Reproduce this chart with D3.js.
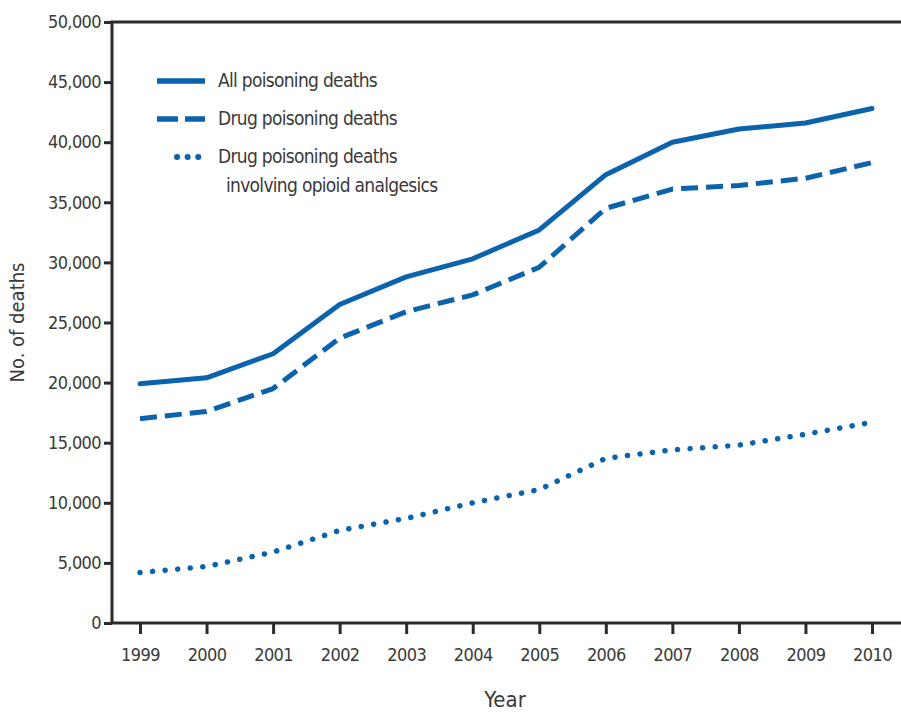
<!DOCTYPE html>
<html>
<head>
<meta charset="utf-8">
<script src="https://cdn.jsdelivr.net/npm/d3@7"></script>
<style>
  html, body { margin: 0; padding: 0; background: #fff; }
  svg { display: block; }
  text { font-family: "DejaVu Sans Condensed", "Liberation Sans Narrow", "Liberation Sans", sans-serif; fill: #3a3a3a; }
</style>
</head>
<body>
<div id="chart"></div>
<script>
// data
const years = [1999, 2000, 2001, 2002, 2003, 2004, 2005, 2006, 2007, 2008, 2009, 2010];
const allPoisoning = [19900, 20400, 22400, 26500, 28800, 30300, 32700, 37300, 40000, 41100, 41600, 42800];
const drugPoisoning = [17000, 17600, 19500, 23700, 25900, 27300, 29600, 34500, 36100, 36400, 37000, 38300];
const opioidPoisoning = [4200, 4700, 5900, 7700, 8700, 10000, 11100, 13700, 14400, 14800, 15700, 16700];
const yTicks = [0, 5000, 10000, 15000, 20000, 25000, 30000, 35000, 40000, 45000, 50000];
const seriesNames = ["All poisoning deaths", "Drug poisoning deaths", "Drug poisoning deaths"];

const W = 901, H = 713;
const plotLeft = 112, plotTop = 22, plotBottom = 623, plotRight = 901;
const blue = "#0b62ad";
const axisColor = "#2b2b2b";

const svg = d3.select("#chart").append("svg")
    .attr("width", W).attr("height", H);

const x = d3.scaleLinear().domain([1999, 2010]).range([140, 872]);
const y = d3.scaleLinear().domain([0, 50000]).range([plotBottom, plotTop]);

// y axis
const yAxis = svg.append("g").attr("transform", `translate(${plotLeft},0)`)
    .call(d3.axisLeft(y).tickValues(yTicks).tickFormat(d3.format(",")).tickSize(8).tickPadding(3));
yAxis.select(".domain").remove();
yAxis.selectAll(".tick line").attr("stroke", axisColor).attr("stroke-width", 3);
yAxis.selectAll(".tick text").attr("font-size", 18).attr("fill", "#3a3a3a").style("letter-spacing", "-0.6px");

// x axis
const xAxis = svg.append("g").attr("transform", `translate(0,${plotBottom})`)
    .call(d3.axisBottom(x).tickValues(years).tickFormat(d3.format("d")).tickSize(11).tickPadding(14));
xAxis.select(".domain").remove();
xAxis.selectAll(".tick line").attr("stroke", axisColor).attr("stroke-width", 3);
xAxis.selectAll(".tick text").attr("font-size", 18).attr("fill", "#3a3a3a").style("letter-spacing", "-0.6px");

// frame: left, top and bottom lines
svg.append("path")
    .attr("d", `M${plotRight},${plotTop} H${plotLeft} V${plotBottom} H${plotRight}`)
    .attr("fill", "none").attr("stroke", axisColor).attr("stroke-width", 3);

// axis titles
svg.append("text")
    .attr("transform", `translate(24,${(plotTop + plotBottom) / 2}) rotate(-90)`)
    .attr("text-anchor", "middle").attr("font-size", 20)
    .text("No. of deaths");
svg.append("text")
    .attr("x", 505).attr("y", 707)
    .attr("text-anchor", "middle").attr("font-size", 22)
    .text("Year");

// lines
const line = d3.line()
    .x((d, i) => x(years[i]))
    .y(d => y(d));

const styles = [
    { data: allPoisoning, dash: null, cap: "round", w: 5 },
    { data: drugPoisoning, dash: "17 8", cap: "butt", w: 5 },
    { data: opioidPoisoning, dash: "0.1 12.5", cap: "round", w: 5.5 }
];

svg.append("g").selectAll("path").data(styles).enter().append("path")
    .attr("d", d => line(d.data))
    .attr("fill", "none")
    .attr("stroke", blue)
    .attr("stroke-width", d => d.w)
    .attr("stroke-linecap", d => d.cap)
    .attr("stroke-linejoin", "round")
    .attr("stroke-dasharray", d => d.dash);

// legend
const legend = svg.append("g");
const legendRows = [
    { y: 81, x1: 157, dash: null, cap: "butt", w: 5.5 },
    { y: 119, x1: 157, dash: "21 7", cap: "butt", w: 5.5 },
    { y: 157, x1: 177, dash: "0.1 10.5", cap: "round", w: 6 }
];
legend.selectAll("line").data(legendRows).enter().append("line")
    .attr("x1", d => d.x1).attr("x2", 205)
    .attr("y1", d => d.y).attr("y2", d => d.y)
    .attr("stroke", blue).attr("stroke-width", d => d.w)
    .attr("stroke-linecap", d => d.cap)
    .attr("stroke-dasharray", d => d.dash);
legend.selectAll("text.lbl").data(seriesNames).enter().append("text")
    .attr("class", "lbl")
    .attr("x", 218).attr("y", (d, i) => legendRows[i].y + 6)
    .attr("font-size", 19).style("letter-spacing", "-0.7px")
    .text(d => d);
legend.append("text")
    .attr("x", 226).attr("y", 192)
    .attr("font-size", 19).style("letter-spacing", "-0.7px")
    .text("involving opioid analgesics");
</script>
</body>
</html>
